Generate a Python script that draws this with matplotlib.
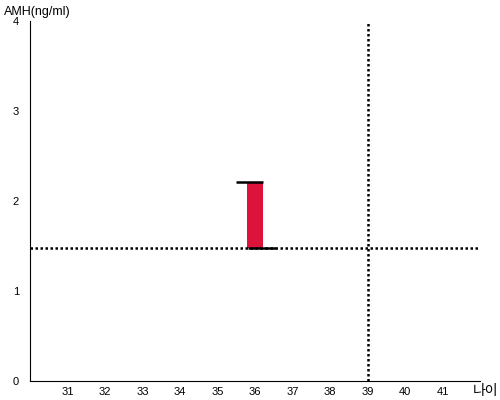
import matplotlib.pyplot as plt

plt.rcParams['font.family'] = ['Liberation Sans', 'Noto Sans CJK KR', 'DejaVu Sans']

# data
x_ticks = [31, 32, 33, 34, 35, 36, 37, 38, 39, 40, 41]
y_ticks = [0, 1, 2, 3, 4]
age = 39
amh_ref = 1.48
bar_x = [35.78, 36.2]
bar_top = 2.21
top_cap = [35.5, 36.2]
bottom_cap = [35.8, 36.55]

fig = plt.figure(figsize=(5, 4), dpi=100)
ax = fig.add_axes([0.06, 0.0475, 0.90, 0.90])

ax.axhline(amh_ref, color='black', lw=1.8, ls=(0, (1, 1)))
ax.axvline(age, color='black', lw=1.8, ls=(0, (1, 1)))

ax.fill_between(bar_x, amh_ref, bar_top, color='#DC143C', lw=0)
ax.plot(top_cap, [bar_top, bar_top], color='black', lw=1.8, solid_capstyle='butt')
ax.plot(bottom_cap, [amh_ref, amh_ref], color='black', lw=1.8, solid_capstyle='butt')

ax.set_xlim(30, 42)
ax.set_ylim(0, 4)
ax.set_xticks(x_ticks)
ax.set_yticks(y_ticks)
ax.tick_params(length=0, labelsize=8)
ax.tick_params(axis='y', pad=8)
ax.tick_params(axis='x', pad=4)
ax.spines['top'].set_visible(False)
ax.spines['right'].set_visible(False)

fig.text(0.008, 0.985, 'AMH(ng/ml)', fontsize=9, va='top', ha='left')
fig.text(0.945, 0.006, '나이', fontsize=10, va='bottom', ha='left')

plt.savefig('out.png')
